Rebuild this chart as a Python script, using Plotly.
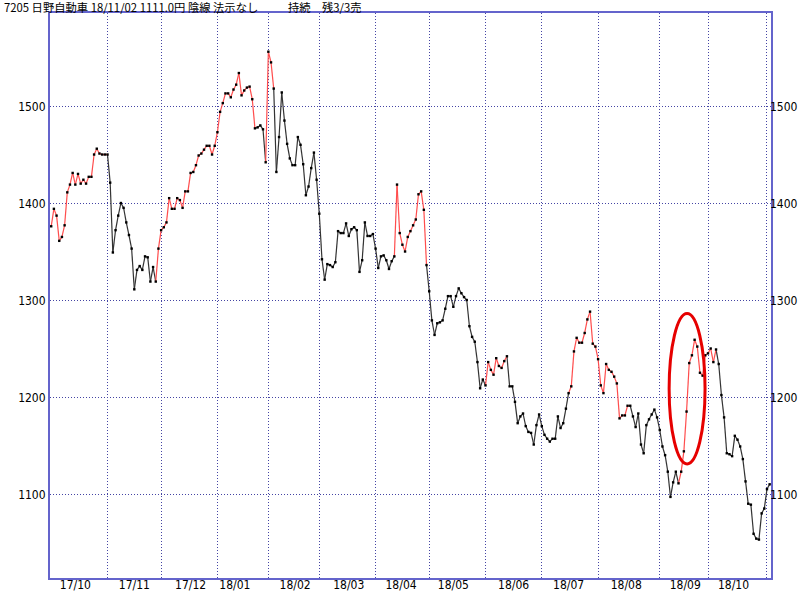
import plotly.graph_objects as go

# ---- data: daily closes, 7205 日野自動車 (Oct 2017 - Nov 2018) ----
oct17 = [1377, 1395, 1388, 1362, 1366, 1378, 1412, 1420, 1432, 1420, 1431, 1421, 1425, 1421, 1428, 1428, 1451, 1457, 1452, 1451, 1451]
nov17 = [1451, 1422, 1350, 1373, 1388, 1401, 1396, 1381, 1368, 1354, 1312, 1332, 1336, 1332, 1346, 1345, 1320, 1335, 1320, 1354]
dec17 = [1373, 1376, 1381, 1406, 1395, 1395, 1406, 1404, 1396, 1413, 1413, 1432, 1433, 1440, 1450, 1452, 1456, 1460, 1460, 1451, 1460]
jan18 = [1474, 1495, 1504, 1514, 1514, 1510, 1518, 1523, 1535, 1512, 1517, 1520, 1521, 1508, 1478, 1479, 1481, 1477, 1443]
feb18 = [1557, 1546, 1519, 1433, 1469, 1515, 1486, 1462, 1447, 1440, 1440, 1469, 1461, 1441, 1409, 1418, 1437, 1453, 1425]
mar18 = [1390, 1343, 1322, 1338, 1337, 1335, 1340, 1372, 1370, 1370, 1380, 1367, 1374, 1376, 1373, 1330, 1342, 1381, 1367, 1367, 1369]
apr18 = [1354, 1334, 1346, 1347, 1342, 1333, 1341, 1346, 1420, 1370, 1358, 1351, 1366, 1372, 1378, 1384, 1410, 1413, 1394, 1337]
may18 = [1310, 1280, 1265, 1277, 1278, 1280, 1292, 1305, 1305, 1294, 1305, 1313, 1308, 1304, 1301, 1274, 1263, 1258, 1237, 1210, 1219]
jun18 = [1213, 1237, 1229, 1224, 1241, 1233, 1231, 1238, 1243, 1212, 1212, 1196, 1174, 1181, 1184, 1171, 1165, 1164, 1152, 1172, 1183]
jul18 = [1171, 1162, 1158, 1155, 1158, 1158, 1181, 1169, 1174, 1189, 1205, 1212, 1248, 1262, 1257, 1257, 1267, 1281, 1289, 1256, 1253]
aug18 = [1240, 1213, 1205, 1235, 1229, 1227, 1222, 1215, 1179, 1182, 1182, 1192, 1192, 1181, 1170, 1184, 1152, 1143, 1172, 1178, 1183, 1188, 1180]
sep18 = [1167, 1150, 1141, 1124, 1098, 1113, 1124, 1112, 1124, 1145, 1186, 1236, 1244, 1260, 1253, 1226, 1223, 1244]
oct18 = [1246, 1251, 1237, 1250, 1235, 1203, 1180, 1143, 1142, 1140, 1161, 1157, 1150, 1137, 1114, 1091, 1090, 1060, 1055, 1054, 1081, 1086]
nov18 = [1106, 1111]

month_series = [oct17, nov17, dec17, jan18, feb18, mar18, apr18, may18,
                jun18, jul18, aug18, sep18, oct18, nov18]
month_labels = ["17/10", "17/11", "17/12", "18/01", "18/02", "18/03", "18/04",
                "18/05", "18/06", "18/07", "18/08", "18/09", "18/10"]
# trading-day index of the label (mid month) for each month
label_pos = [9, 31, 52, 68.5, 91, 111, 130.5, 150, 172.5, 193, 214.5, 236.5, 254.5]

# rising-trend (red) runs: segment index ranges [start, end)
red_runs = [(0, 21), (39, 76), (80, 83), (128, 140), (162, 170), (193, 216), (234, 248)]

y_ticks = [1100, 1200, 1300, 1400, 1500]

# ---- build ----
close = [v for m in month_series for v in m]
n = len(close)
idx = list(range(n))

month_starts = []
c = 0
for m in month_series:
    month_starts.append(c)
    c += len(m)
grid_x = month_starts[1:]

red_set = set()
for a, b in red_runs:
    red_set.update(range(a, b))

rx, ry, kx, ky = [], [], [], []
for i in range(n - 1):
    if i in red_set:
        rx += [idx[i], idx[i + 1], None]
        ry += [close[i], close[i + 1], None]
    else:
        kx += [idx[i], idx[i + 1], None]
        ky += [close[i], close[i + 1], None]

fig = go.Figure()
fig.add_trace(go.Scatter(x=kx, y=ky, mode="lines",
                         line=dict(color="#333333", width=1.2), hoverinfo="skip"))
fig.add_trace(go.Scatter(x=rx, y=ry, mode="lines",
                         line=dict(color="#ff4d4d", width=1.2), hoverinfo="skip"))
fig.add_trace(go.Scatter(x=idx, y=close, mode="markers",
                         marker=dict(symbol="square", size=2.4, color="#000000",
                                     line=dict(width=0))))
# dummy trace for right-hand y axis
fig.add_trace(go.Scatter(x=[idx[0]], y=[close[0]], yaxis="y2", mode="markers",
                         marker=dict(opacity=0), hoverinfo="skip"))

frame_col = "#6464cc"
grid_col = "#4444a4"
tick_font = dict(family="Liberation Sans Narrow, DejaVu Sans Condensed, sans-serif",
                 size=12, color="#000000")
yr = [1014.4, 1596.9]
ML, MR, MT, MB = 50, 29, 13, 13

fig.update_layout(
    width=800, height=591,
    margin=dict(l=ML, r=MR, t=MT, b=MB, autoexpand=False),
    paper_bgcolor="white", plot_bgcolor="white",
    showlegend=False,
    xaxis=dict(
        range=[-0.45, n - 1 + 0.5], automargin=False,
        tickmode="array", tickvals=label_pos, ticktext=month_labels,
        showgrid=False, zeroline=False, ticks="", ticklabelstandoff=-5,
        tickfont=tick_font,
        showline=True, linecolor=frame_col, linewidth=2, mirror=True,
        minor=dict(tickvals=grid_x, showgrid=True, gridcolor=grid_col,
                   griddash="1px,2px", gridwidth=1, ticks=""),
    ),
    yaxis=dict(
        range=yr, tickmode="array", tickvals=y_ticks, automargin=False,
        showgrid=True, gridcolor=grid_col, griddash="1px,2px", gridwidth=1,
        zeroline=False, ticks="", tickfont=tick_font,
        showline=True, linecolor=frame_col, linewidth=2, mirror=True,
    ),
    yaxis2=dict(
        range=yr, tickmode="array", tickvals=y_ticks, overlaying="y", side="right",
        automargin=False, showgrid=False, zeroline=False, ticks="",
        ticklabelstandoff=-2, tickfont=tick_font, showline=False,
    ),
)

# highlight ellipse
fig.add_shape(type="circle", xref="x", yref="y", x0=230.5, x1=243.9, y0=1132, y1=1287,
              line=dict(color="#e60000", width=3))

hdr_font = dict(family="Noto Sans CJK JP, sans-serif", size=11.3, color="#000000")
plot_w = 800 - ML - MR
plot_h = 591 - MT - MB
def px_to_paper(px):
    return (px - ML) / plot_w
hy = 1 + (MT - 6.5) / plot_h
for txt, px in [("7205 日野自動車 18/11/02 1111.0円 陰線 法示なし", 2),
                ("持続", 286), ("残3/3売", 320)]:
    fig.add_annotation(text=txt, xref="paper", yref="paper", x=px_to_paper(px), y=hy,
                       xanchor="left", yanchor="middle", showarrow=False, font=hdr_font)

fig.write_html("out.html", config={"displayModeBar": False},
               post_script="document.body.style.margin='0px';document.body.style.overflow='hidden';")
